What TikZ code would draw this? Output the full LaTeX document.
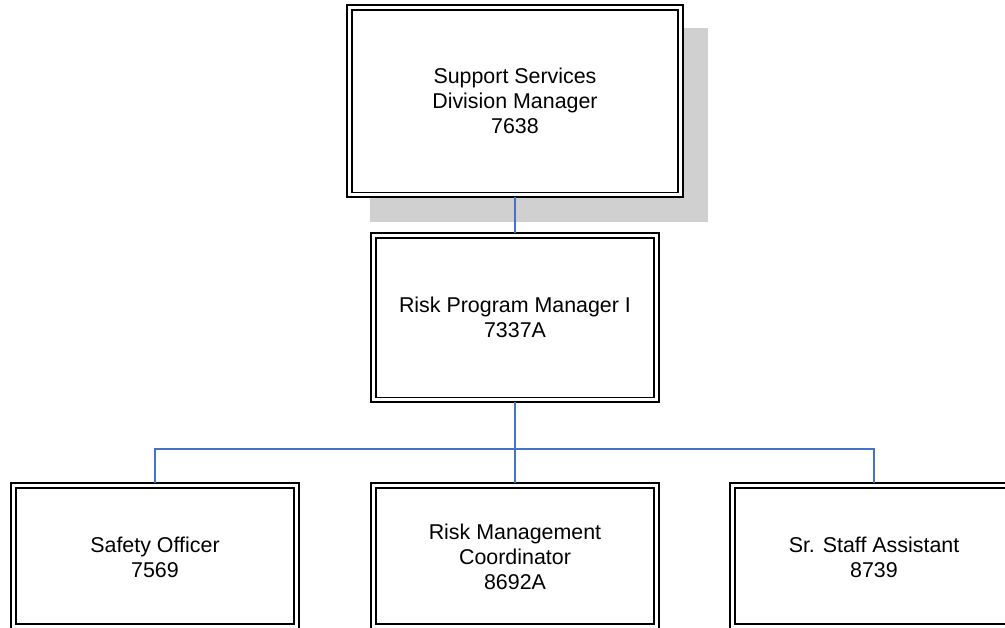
\documentclass[tikz,border=0pt]{standalone}
\usepackage{fontspec}
\setmainfont{Liberation Sans}
\definecolor{connblue}{RGB}{68,114,196}
\definecolor{shadowgray}{RGB}{208,208,208}
\tikzset{
  posbox/.style={draw=black, line width=1.8pt, fill=white, inner sep=0pt, outer sep=0pt,
    align=center, font=\fontsize{21.4}{25}\selectfont},
  innerline/.style={draw=black, line width=1.1pt},
  conn/.style={draw=connblue, line width=1.3pt},
}
\begin{document}
\begin{tikzpicture}[x=1pt,y=-1pt]
\useasboundingbox (0,0) rectangle (1005,628);
\clip (0,0) rectangle (1005,628);
% shadow of top box
\coordinate (shTL) at (370,28);
\coordinate (shBR) at (708,222);
\fill[shadowgray] (shTL) rectangle (shBR);
% boxes
\node[posbox, minimum width=336pt, minimum height=192pt] (top) at (515,101) {Support Services\\Division Manager\\7638};
\node[posbox, minimum width=288pt, minimum height=169pt] (mid) at (515,317.5) {Risk Program Manager I\\7337A};
\node[posbox, minimum width=288pt, minimum height=148pt] (b1) at (155,557) {Safety Officer\\7569};
\node[posbox, minimum width=288pt, minimum height=148pt] (b2) at (515,557) {Risk Management\\Coordinator\\8692A};
\node[posbox, minimum width=288pt, minimum height=148pt] (b3) at (874,557) {Sr. Staff Assistant\\8739};
% inner lines
\foreach \n in {top,mid}{
  \draw[innerline] ([shift={(5,5)}]\n.north west) rectangle ([shift={(-5,-4.5)}]\n.south east);
}
\foreach \n in {b1,b2,b3}{
  \draw[innerline] ([shift={(5,5)}]\n.north west) rectangle ([shift={(-5,-7)}]\n.south east);
}
% connectors
\coordinate (bus) at (515,449);
\draw[conn] (top.south) -- (mid.north);
\draw[conn] (mid.south) -- (bus);
\draw[conn] (b1.north) |- (bus) -| (b3.north);
\draw[conn] (bus) -- (b2.north);
\end{tikzpicture}
\end{document}
